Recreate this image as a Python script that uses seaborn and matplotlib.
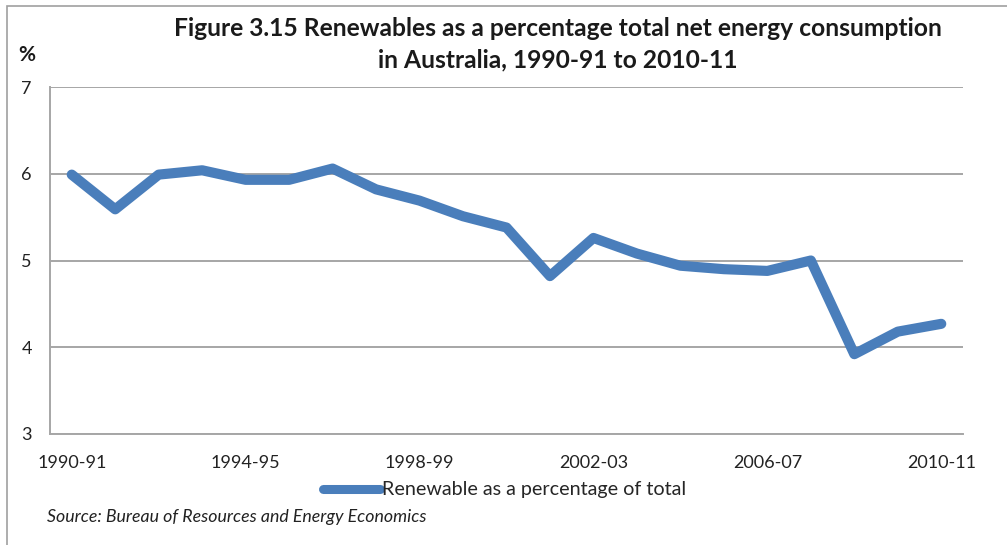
import matplotlib.pyplot as plt
import matplotlib.patches as mpatches
import seaborn as sns
import pandas as pd

# Financial years shown on the x axis
years = ['1990-91', '1991-92', '1992-93', '1993-94', '1994-95', '1995-96',
         '1996-97', '1997-98', '1998-99', '1999-00', '2000-01', '2001-02',
         '2002-03', '2003-04', '2004-05', '2005-06', '2006-07', '2007-08',
         '2008-09', '2009-10', '2010-11']

# Renewables share of total net energy consumption (%)
share = [5.99, 5.59, 5.99, 6.04, 5.93, 5.93, 6.06, 5.82, 5.69, 5.51, 5.38,
         4.82, 5.26, 5.08, 4.94, 4.90, 4.88, 5.00, 3.92, 4.18, 4.27]

tick_years = ['1990-91', '1994-95', '1998-99', '2002-03', '2006-07', '2010-11']
y_ticks = [3, 4, 5, 6, 7]

series_name = 'Renewable as a percentage of total'
line_color = '#4a7ebb'
grid_color = '#a6a6a6'

sns.set_style('white')
plt.rcParams['font.family'] = ['Lato', 'DejaVu Sans']

df = pd.DataFrame({'pos': range(len(years)), 'Year': years, 'Share': share})

W, H = 1007, 545
fig = plt.figure(figsize=(W / 100, H / 100), dpi=100)
ax = fig.add_axes([50 / W, 1 - 434 / H, (963 - 50) / W, (434 - 87) / H])

sns.lineplot(ax=ax, data=df, x='pos', y='Share', color=line_color,
             linewidth=7.3, solid_capstyle='round', solid_joinstyle='round',
             label=series_name)

ax.set_xlim(-0.5, len(years) - 0.5)
ax.set_ylim(3, 7)
ax.set_yticks(y_ticks)
ax.set_yticklabels([str(v) for v in y_ticks])
ax.set_xticks([years.index(t) for t in tick_years])
ax.set_xticklabels(tick_years)
ax.tick_params(axis='both', length=0, labelsize=13, colors='#222222')
ax.tick_params(axis='x', pad=15)
ax.tick_params(axis='y', pad=13)
ax.set_xlabel('')
ax.set_ylabel('')

ax.grid(axis='y', color=grid_color, linewidth=1.4)
ax.set_axisbelow(True)
for side in ['top', 'right']:
    ax.spines[side].set_visible(False)
for side in ['left', 'bottom']:
    ax.spines[side].set_color(grid_color)
    ax.spines[side].set_linewidth(1.4)

leg = ax.legend(loc='center left', bbox_to_anchor=(323 / W, 1 - 490 / H),
                bbox_transform=fig.transFigure, frameon=False, fontsize=14.2,
                handlelength=2.9, handletextpad=0.1, borderpad=0,
                borderaxespad=0)
for h in leg.get_lines():
    h.set_linewidth(6.5)
    h.set_solid_capstyle('round')

fig.text(558 / W, 1 - 28 / H,
         'Figure 3.15 Renewables as a percentage total net energy consumption',
         ha='center', va='center', fontsize=17.7, fontweight='bold',
         color='#1a1a1a')
fig.text(558 / W, 1 - 60 / H, 'in Australia, 1990-91 to 2010-11',
         ha='center', va='center', fontsize=17.7, fontweight='bold',
         color='#1a1a1a')
fig.text(27 / W, 1 - 55 / H, '%', ha='center', va='center', fontsize=15,
         fontweight='bold', color='#1a1a1a')
fig.text(47 / W, 1 - 517 / H, 'Source: Bureau of Resources and Energy Economics',
         ha='left', va='center', fontsize=12.8, style='italic', color='#222222')

# thin frame around the whole chart area
fig.patches.append(mpatches.Rectangle((7 / W, -0.05), 1.1, 1 - 6 / H + 0.05,
                                      transform=fig.transFigure, fill=False,
                                      edgecolor='#a0a0a0', linewidth=1.2,
                                      clip_on=False))

fig.savefig('out.png', dpi=100)
